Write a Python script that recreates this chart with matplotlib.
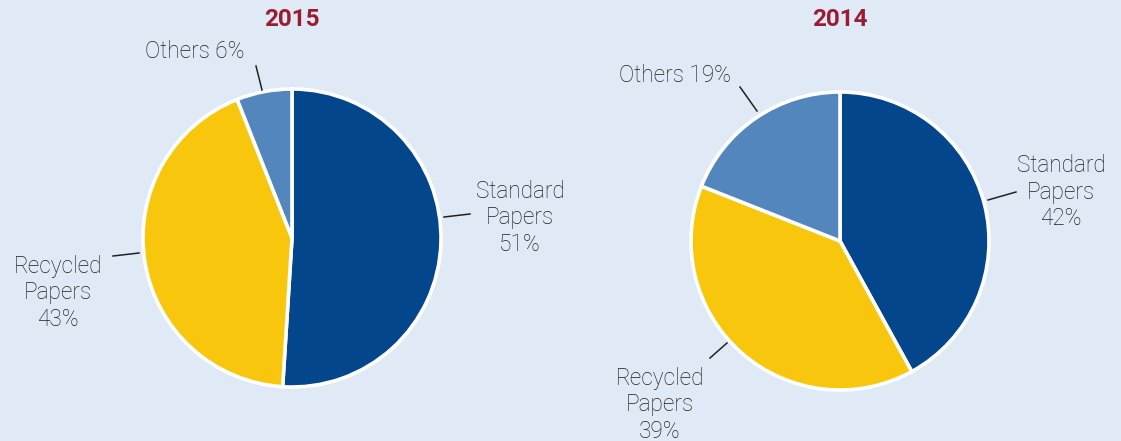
import matplotlib
matplotlib.use("Agg")
import matplotlib.pyplot as plt
from matplotlib.lines import Line2D

W, H = 1121, 441
years = ["2015", "2014"]
categories = ["Standard Papers", "Recycled Papers", "Others"]
values_2015 = [51, 43, 6]
values_2014 = [42, 39, 19]

colors = ["#03468c", "#f8c70d", "#5386bd"]
bg = "#dfeaf6"
title_color = "#9b1c31"
text_color = "#1e1e1e"

plt.rcParams['font.family'] = ['Roboto', 'DejaVu Sans']

fig = plt.figure(figsize=(W / 100, H / 100), dpi=100, facecolor=bg)

def fx(x):
    return x / W

def fy(y):
    return 1 - y / H

def add_pie(cx, cy, r, vals):
    ax = fig.add_axes([fx(cx - r), fy(cy + r), 2 * r / W, 2 * r / H])
    ax.set_facecolor(bg)
    ax.pie(vals, colors=colors, startangle=90, counterclock=False,
           wedgeprops=dict(edgecolor="white", linewidth=2.6))
    ax.set_xlim(-1.02, 1.02)
    ax.set_ylim(-1.02, 1.02)
    ax.set_aspect("equal")
    ax.axis("off")
    return ax

def line(x0, y0, x1, y1):
    fig.add_artist(Line2D([fx(x0), fx(x1)], [fy(y0), fy(y1)], color="#222222", lw=1.1))

def label(x, y, s):
    fig.text(fx(x), fy(y), s, ha="center", va="center", fontsize=16.3,
             color=text_color, fontweight="light", linespacing=1.2)

# 2015
add_pie(292, 238, 152, values_2015)
fig.text(fx(292), fy(20), years[0], ha="center", va="center", fontsize=17.5,
         fontweight="bold", color=title_color)
label(195, 52, f"Others {values_2015[2]}%")
line(256, 66, 262, 90)
label(520, 218, f"Standard\nPapers\n{values_2015[0]}%")
line(444, 217, 470, 214)
label(58, 293, f"Recycled\nPapers\n{values_2015[1]}%")
line(113, 256, 139, 253)

# 2014
add_pie(840, 241, 152, values_2014)
fig.text(fx(840), fy(20), years[1], ha="center", va="center", fontsize=17.5,
         fontweight="bold", color=title_color)
label(675, 75, f"Others {values_2014[2]}%")
line(740, 87, 757, 111)
label(1061, 192, f"Standard\nPapers\n{values_2014[0]}%")
line(988, 200, 1016, 192)
label(660, 405, f"Recycled\nPapers\n{values_2014[1]}%")
line(710, 358, 727, 343)

fig.savefig("out.png", dpi=100, facecolor=bg)
